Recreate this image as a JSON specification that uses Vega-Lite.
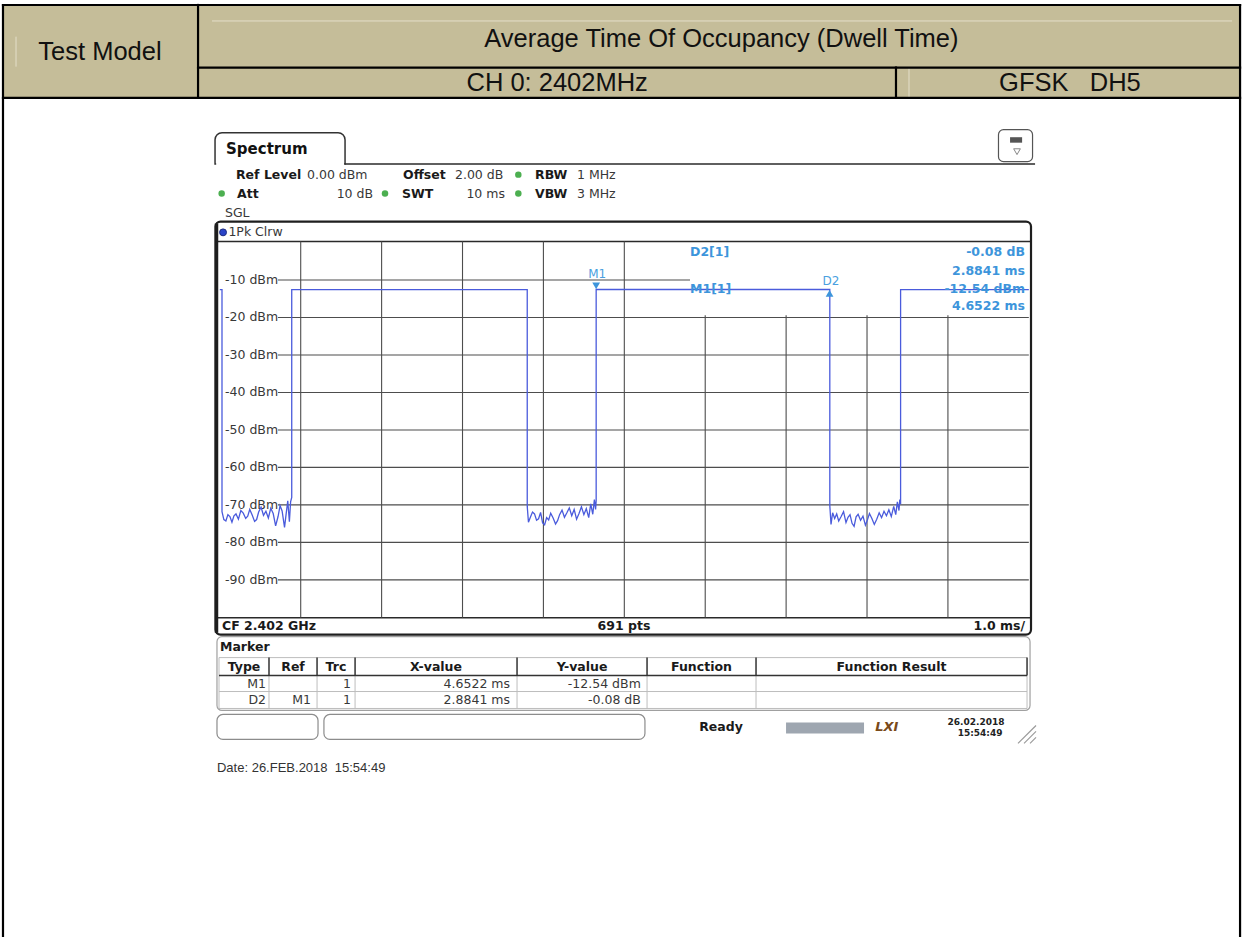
{
  "$schema": "https://vega.github.io/schema/vega-lite/v6.json",
  "width": 1242,
  "height": 938,
  "autosize": {"type": "fit", "contains": "padding"},
  "padding": 0,
  "background": "white",
  "config": {"view": {"stroke": null}},
  "datasets": {
    "rects": [
      {"g": "hdrFill", "t": -2.680, "t2": 12.611, "v": 63.35, "v2": 38.59},
      {"g": "tab", "t": -0.059, "t2": 1.548, "v": 29.28, "v2": 20.95},
      {"g": "icon", "t": 9.625, "t2": 10.046, "v": 30.08, "v2": 21.56},
      {"g": "iconBar", "t": 9.768, "t2": 9.917, "v": 28.08, "v2": 26.62},
      {"g": "plotBox", "t": -0.053, "t2": 10.027, "v": 5.59, "v2": -104.60},
      {"g": "mBox", "t": -0.035, "t2": 10.015, "v": -105.14, "v2": -124.83},
      {"g": "sBox", "t": -0.035, "t2": 1.214, "v": -125.90, "v2": -132.56},
      {"g": "sBox", "t": 1.287, "t2": 5.255, "v": -125.90, "v2": -132.56},
      {"g": "prog", "t": 6.999, "t2": 7.963, "v": -128.03, "v2": -130.96}
    ],
    "rules": [
      {"g": "faint", "t": -0.096, "t2": 12.512, "v": 59.09, "v2": 59.09},
      {"g": "faint", "t": -2.519, "t2": -2.519, "v": 54.9, "v2": 46.9},
      {"g": "faint", "t": 8.519, "t2": 8.519, "v": 46.5, "v2": 38.8},
      {"g": "frame", "t": -2.680, "t2": 12.611, "v": 63.35, "v2": 63.35},
      {"g": "frame", "t": -2.680, "t2": -2.680, "v": 63.35, "v2": -184.99},
      {"g": "frame", "t": 12.611, "t2": 12.611, "v": 63.35, "v2": -184.99},
      {"g": "frame", "t": -2.680, "t2": 12.611, "v": 38.59, "v2": 38.59},
      {"g": "frame", "t": -0.269, "t2": -0.269, "v": 63.35, "v2": 38.59},
      {"g": "frame", "t": -0.269, "t2": 12.611, "v": 46.66, "v2": 46.66},
      {"g": "frame", "t": 8.358, "t2": 8.358, "v": 46.66, "v2": 38.59},
      {"g": "tabCover", "t": -0.045, "t2": 1.535, "v": 20.95, "v2": 20.95},
      {"g": "inst", "t": 1.548, "t2": 10.077, "v": 20.95, "v2": 20.95},
      {"g": "inst", "t": -0.053, "t2": 10.027, "v": 0.27, "v2": 0.27},
      {"g": "inst", "t": -0.053, "t2": 10.027, "v": -100.08, "v2": -100.08},
      {"g": "thick", "t": -0.041, "t2": -0.041, "v": 5.06, "v2": -104.07},
      {"g": "grid", "t": 1, "t2": 1, "v": 0.27, "v2": -100},
      {"g": "grid", "t": 2, "t2": 2, "v": 0.27, "v2": -100},
      {"g": "grid", "t": 3, "t2": 3, "v": 0.27, "v2": -100},
      {"g": "grid", "t": 4, "t2": 4, "v": 0.27, "v2": -100},
      {"g": "grid", "t": 5, "t2": 5, "v": 0.27, "v2": -100},
      {"g": "grid", "t": 6, "t2": 6, "v": -19.43, "v2": -100},
      {"g": "grid", "t": 7, "t2": 7, "v": -19.43, "v2": -100},
      {"g": "grid", "t": 8, "t2": 8, "v": -19.43, "v2": -100},
      {"g": "grid", "t": 9, "t2": 9, "v": -19.43, "v2": -100},
      {"g": "grid", "t": 0.719, "t2": 5.812, "v": -10, "v2": -10},
      {"g": "grid", "t": 0.719, "t2": 10, "v": -20, "v2": -20},
      {"g": "grid", "t": 0.719, "t2": 10, "v": -30, "v2": -30},
      {"g": "grid", "t": 0.719, "t2": 10, "v": -40, "v2": -40},
      {"g": "grid", "t": 0.719, "t2": 10, "v": -50, "v2": -50},
      {"g": "grid", "t": 0.719, "t2": 10, "v": -60, "v2": -60},
      {"g": "grid", "t": 0.719, "t2": 10, "v": -70, "v2": -70},
      {"g": "grid", "t": 0.719, "t2": 10, "v": -80, "v2": -80},
      {"g": "grid", "t": 0.719, "t2": 10, "v": -90, "v2": -90},
      {"g": "tDark", "t": -0.010, "t2": 9.978, "v": -115.52, "v2": -115.52},
      {"g": "tDark", "t": 0.608, "t2": 0.608, "v": -110.73, "v2": -115.52},
      {"g": "tDark", "t": 1.202, "t2": 1.202, "v": -110.73, "v2": -115.52},
      {"g": "tDark", "t": 1.672, "t2": 1.672, "v": -110.73, "v2": -115.52},
      {"g": "tDark", "t": 3.674, "t2": 3.674, "v": -110.73, "v2": -115.52},
      {"g": "tDark", "t": 5.281, "t2": 5.281, "v": -110.73, "v2": -115.52},
      {"g": "tDark", "t": 6.628, "t2": 6.628, "v": -110.73, "v2": -115.52},
      {"g": "tDark", "t": 9.978, "t2": 9.978, "v": -110.73, "v2": -115.52},
      {"g": "tLight", "t": -0.010, "t2": 9.978, "v": -110.73, "v2": -110.73},
      {"g": "tLight", "t": -0.010, "t2": 9.978, "v": -119.78, "v2": -119.78},
      {"g": "tLight", "t": -0.010, "t2": 9.978, "v": -124.30, "v2": -124.30},
      {"g": "tLight", "t": -0.010, "t2": -0.010, "v": -110.73, "v2": -124.30},
      {"g": "tLight", "t": 0.608, "t2": 0.608, "v": -115.52, "v2": -124.30},
      {"g": "tLight", "t": 1.202, "t2": 1.202, "v": -115.52, "v2": -124.30},
      {"g": "tLight", "t": 1.672, "t2": 1.672, "v": -115.52, "v2": -124.30},
      {"g": "tLight", "t": 3.674, "t2": 3.674, "v": -115.52, "v2": -124.30},
      {"g": "tLight", "t": 5.281, "t2": 5.281, "v": -115.52, "v2": -124.30},
      {"g": "tLight", "t": 6.628, "t2": 6.628, "v": -115.52, "v2": -124.30},
      {"g": "tLight", "t": 9.978, "t2": 9.978, "v": -115.52, "v2": -124.30},
      {"g": "hatch", "t": 9.866, "t2": 10.089, "v": -133.62, "v2": -128.83},
      {"g": "hatch", "t": 9.941, "t2": 10.089, "v": -133.62, "v2": -130.42},
      {"g": "hatch", "t": 10.015, "t2": 10.089, "v": -133.62, "v2": -132.02}
    ],
    "dots": [
      {"g": "green", "t": 3.690, "v": 18.10},
      {"g": "green", "t": 0.023, "v": 13.04},
      {"g": "green", "t": 2.042, "v": 13.04},
      {"g": "green", "t": 3.690, "v": 13.04},
      {"g": "blue", "t": 0.040, "v": 2.70},
      {"g": "triDown", "t": 4.652, "v": -11.58},
      {"g": "triUp", "t": 7.537, "v": -13.57},
      {"g": "iconTri", "t": 9.854, "v": 24.22}
    ],
    "annot": [
      {"g": "hdr", "t": -1.481, "v": 50.84, "s": "Test Model"},
      {"g": "hdr", "t": 6.20, "v": 54.30, "s": "Average Time Of Occupancy (Dwell Time)"},
      {"g": "hdr", "t": 4.17, "v": 42.66, "s": "CH 0: 2402MHz"},
      {"g": "hdr", "t": 10.508, "v": 42.66, "s": "GFSK\u00a0\u00a0\u00a0DH5"},
      {"g": "spec", "t": 0.077, "v": 25.02, "s": "Spectrum"},
      {"g": "bL", "t": 0.200, "v": 18.10, "s": "Ref Level"},
      {"g": "bL", "t": 2.265, "v": 18.10, "s": "Offset"},
      {"g": "bL", "t": 3.896, "v": 18.10, "s": "RBW"},
      {"g": "bL", "t": 0.213, "v": 13.04, "s": "Att"},
      {"g": "bL", "t": 2.252, "v": 13.04, "s": "SWT"},
      {"g": "bL", "t": 3.896, "v": 13.04, "s": "VBW"},
      {"g": "bL", "t": 0.027, "v": -102.21, "s": "CF 2.402 GHz"},
      {"g": "bL", "t": 0.002, "v": -107.80, "s": "Marker"},
      {"g": "bC", "t": 4.996, "v": -102.21, "s": "691 pts"},
      {"g": "bC", "t": 0.299, "v": -113.12, "s": "Type"},
      {"g": "bC", "t": 0.905, "v": -113.12, "s": "Ref"},
      {"g": "bC", "t": 1.436, "v": -113.12, "s": "Trc"},
      {"g": "bC", "t": 2.672, "v": -113.12, "s": "X-value"},
      {"g": "bC", "t": 4.478, "v": -113.12, "s": "Y-value"},
      {"g": "bC", "t": 5.954, "v": -113.12, "s": "Function"},
      {"g": "bC", "t": 8.303, "v": -113.12, "s": "Function Result"},
      {"g": "bC", "t": 6.195, "v": -129.36, "s": "Ready"},
      {"g": "bR", "t": 9.953, "v": -102.21, "s": "1.0 ms/"},
      {"g": "nL", "t": 1.078, "v": 18.10, "s": "0.00 dBm"},
      {"g": "nL", "t": 2.907, "v": 18.10, "s": "2.00 dB"},
      {"g": "nL", "t": 4.415, "v": 18.10, "s": "1 MHz"},
      {"g": "nL", "t": 4.415, "v": 13.04, "s": "3 MHz"},
      {"g": "nL", "t": 0.064, "v": 7.91, "s": "SGL"},
      {"g": "nL", "t": 0.106, "v": 2.85, "s": "1Pk Clrw"},
      {"g": "nL", "t": 0.064, "v": -10, "s": "-10 dBm"},
      {"g": "nL", "t": 0.064, "v": -20, "s": "-20 dBm"},
      {"g": "nL", "t": 0.064, "v": -30, "s": "-30 dBm"},
      {"g": "nL", "t": 0.064, "v": -40, "s": "-40 dBm"},
      {"g": "nL", "t": 0.064, "v": -50, "s": "-50 dBm"},
      {"g": "nL", "t": 0.064, "v": -60, "s": "-60 dBm"},
      {"g": "nL", "t": 0.064, "v": -70, "s": "-70 dBm"},
      {"g": "nL", "t": 0.064, "v": -80, "s": "-80 dBm"},
      {"g": "nL", "t": 0.064, "v": -90, "s": "-90 dBm"},
      {"g": "nR", "t": 1.894, "v": 13.04, "s": "10 dB"},
      {"g": "nR", "t": 3.525, "v": 13.04, "s": "10 ms"},
      {"g": "nR", "t": 0.571, "v": -117.65, "s": "M1"},
      {"g": "nR", "t": 1.622, "v": -117.65, "s": "1"},
      {"g": "nR", "t": 3.587, "v": -117.65, "s": "4.6522 ms"},
      {"g": "nR", "t": 5.204, "v": -117.65, "s": "-12.54 dBm"},
      {"g": "nR", "t": 0.571, "v": -122.04, "s": "D2"},
      {"g": "nR", "t": 1.127, "v": -122.04, "s": "M1"},
      {"g": "nR", "t": 1.622, "v": -122.04, "s": "1"},
      {"g": "nR", "t": 3.587, "v": -122.04, "s": "2.8841 ms"},
      {"g": "nR", "t": 5.204, "v": -122.04, "s": "-0.08 dB"},
      {"g": "mL", "t": 5.812, "v": -2.66, "s": "D2[1]"},
      {"g": "mL", "t": 5.812, "v": -12.51, "s": "M1[1]"},
      {"g": "mR", "t": 9.953, "v": -2.66, "s": "-0.08 dB"},
      {"g": "mR", "t": 9.953, "v": -7.64, "s": "2.8841 ms"},
      {"g": "mR", "t": 9.953, "v": -12.51, "s": "-12.54 dBm"},
      {"g": "mR", "t": 9.953, "v": -16.95, "s": "4.6522 ms"},
      {"g": "mC", "t": 4.665, "v": -8.52, "s": "M1"},
      {"g": "mC", "t": 7.553, "v": -10.30, "s": "D2"},
      {"g": "sm", "t": 9.347, "v": -128.03, "s": "26.02.2018"},
      {"g": "sm", "t": 9.397, "v": -130.96, "s": "15:54:49"},
      {"g": "lxi", "t": 8.245, "v": -129.36, "s": "LXI"},
      {"g": "date", "t": -0.035, "v": -140.27, "s": "Date: 26.FEB.2018\u00a0\u00a015:54:49"}
    ],
    "trace": [
      {"t": 0, "v": -12.6}, {"t": 0.027, "v": -12.6}, {"t": 0.027, "v": -71.8},
      {"t": 0.050, "v": -73.9}, {"t": 0.075, "v": -74.3}, {"t": 0.100, "v": -72.6},
      {"t": 0.125, "v": -73.1}, {"t": 0.150, "v": -74.6}, {"t": 0.175, "v": -72.9},
      {"t": 0.200, "v": -72.4}, {"t": 0.230, "v": -73.8}, {"t": 0.260, "v": -71.5},
      {"t": 0.290, "v": -72.2}, {"t": 0.320, "v": -73.6}, {"t": 0.345, "v": -73.0},
      {"t": 0.370, "v": -71.2}, {"t": 0.400, "v": -72.7}, {"t": 0.430, "v": -74.4},
      {"t": 0.455, "v": -73.9}, {"t": 0.480, "v": -71.9}, {"t": 0.510, "v": -70.6},
      {"t": 0.540, "v": -72.8}, {"t": 0.570, "v": -71.7}, {"t": 0.600, "v": -73.5},
      {"t": 0.630, "v": -70.9}, {"t": 0.660, "v": -72.3}, {"t": 0.690, "v": -75.6},
      {"t": 0.720, "v": -73.1}, {"t": 0.745, "v": -70.2}, {"t": 0.770, "v": -71.6},
      {"t": 0.800, "v": -76.0}, {"t": 0.820, "v": -72.4}, {"t": 0.840, "v": -68.9},
      {"t": 0.860, "v": -74.5}, {"t": 0.875, "v": -69.2}, {"t": 0.889, "v": -68.0},
      {"t": 0.889, "v": -12.6},
      {"t": 3.800, "v": -12.6}, {"t": 3.800, "v": -70.4},
      {"t": 3.815, "v": -74.6}, {"t": 3.840, "v": -73.2}, {"t": 3.865, "v": -71.9},
      {"t": 3.890, "v": -72.4}, {"t": 3.915, "v": -74.1}, {"t": 3.940, "v": -73.7},
      {"t": 3.965, "v": -72.0}, {"t": 3.990, "v": -74.8}, {"t": 4.015, "v": -75.3},
      {"t": 4.040, "v": -73.4}, {"t": 4.065, "v": -74.0}, {"t": 4.090, "v": -72.2},
      {"t": 4.120, "v": -73.5}, {"t": 4.150, "v": -75.1}, {"t": 4.175, "v": -74.2},
      {"t": 4.200, "v": -72.6}, {"t": 4.230, "v": -71.4}, {"t": 4.260, "v": -73.3},
      {"t": 4.290, "v": -72.1}, {"t": 4.320, "v": -70.8}, {"t": 4.350, "v": -72.9},
      {"t": 4.380, "v": -71.2}, {"t": 4.410, "v": -73.8}, {"t": 4.440, "v": -72.3},
      {"t": 4.470, "v": -70.5}, {"t": 4.500, "v": -72.6}, {"t": 4.530, "v": -71.0},
      {"t": 4.560, "v": -73.4}, {"t": 4.585, "v": -69.7}, {"t": 4.610, "v": -72.5},
      {"t": 4.630, "v": -68.6}, {"t": 4.645, "v": -71.2}, {"t": 4.652, "v": -68.9},
      {"t": 4.652, "v": -12.54}, {"t": 7.540, "v": -12.54}, {"t": 7.540, "v": -70.2},
      {"t": 7.555, "v": -75.2}, {"t": 7.575, "v": -72.1}, {"t": 7.600, "v": -73.6},
      {"t": 7.625, "v": -72.4}, {"t": 7.650, "v": -74.3}, {"t": 7.680, "v": -73.1},
      {"t": 7.710, "v": -71.8}, {"t": 7.740, "v": -74.7}, {"t": 7.765, "v": -73.3},
      {"t": 7.790, "v": -72.6}, {"t": 7.815, "v": -74.9}, {"t": 7.840, "v": -75.7},
      {"t": 7.865, "v": -73.2}, {"t": 7.890, "v": -72.5}, {"t": 7.920, "v": -74.1},
      {"t": 7.950, "v": -73.0}, {"t": 7.980, "v": -75.4}, {"t": 8.005, "v": -74.0},
      {"t": 8.030, "v": -72.3}, {"t": 8.060, "v": -73.6}, {"t": 8.090, "v": -75.2},
      {"t": 8.120, "v": -73.8}, {"t": 8.150, "v": -72.1}, {"t": 8.180, "v": -73.4},
      {"t": 8.210, "v": -71.7}, {"t": 8.240, "v": -72.9}, {"t": 8.270, "v": -71.3},
      {"t": 8.300, "v": -73.1}, {"t": 8.330, "v": -70.4}, {"t": 8.355, "v": -72.6},
      {"t": 8.375, "v": -69.2}, {"t": 8.395, "v": -71.5}, {"t": 8.405, "v": -68.6},
      {"t": 8.415, "v": -69.8}, {"t": 8.415, "v": -12.56},
      {"t": 10.0, "v": -12.56}
    ]
  },
  "encoding": {
    "x": {"field": "t", "type": "quantitative", "scale": {"domain": [-2.717, 12.635], "nice": false, "zero": false}, "axis": null},
    "y": {"field": "v", "type": "quantitative", "scale": {"domain": [-184.99, 64.68], "nice": false, "zero": false}, "axis": null}
  },
  "layer": [
    {"data": {"name": "rects"}, "transform": [{"filter": "datum.g == 'hdrFill'"}], "mark": {"type": "rect", "fill": "#c5bd99"}, "encoding": {"x2": {"field": "t2"}, "y2": {"field": "v2"}}},
    {"data": {"name": "rules"}, "transform": [{"filter": "datum.g == 'faint'"}], "mark": {"type": "rule", "color": "#e4dfca", "strokeWidth": 1}, "encoding": {"x2": {"field": "t2"}, "y2": {"field": "v2"}}},
    {"data": {"name": "rules"}, "transform": [{"filter": "datum.g == 'frame'"}], "mark": {"type": "rule", "color": "#000000", "strokeWidth": 2.2, "strokeCap": "square"}, "encoding": {"x2": {"field": "t2"}, "y2": {"field": "v2"}}},
    {"data": {"name": "annot"}, "transform": [{"filter": "datum.g == 'hdr'"}], "mark": {"type": "text", "font": "Liberation Sans", "fontSize": 25.5, "color": "#111111", "align": "center", "baseline": "middle"}, "encoding": {"text": {"field": "s"}}},
    {"data": {"name": "rects"}, "transform": [{"filter": "datum.g == 'tab'"}], "mark": {"type": "rect", "fill": "#ffffff", "stroke": "#333333", "strokeWidth": 1.5, "cornerRadiusTopLeft": 7, "cornerRadiusTopRight": 7}, "encoding": {"x2": {"field": "t2"}, "y2": {"field": "v2"}}},
    {"data": {"name": "rules"}, "transform": [{"filter": "datum.g == 'tabCover'"}], "mark": {"type": "rule", "color": "#ffffff", "strokeWidth": 3}, "encoding": {"x2": {"field": "t2"}, "y2": {"field": "v2"}}},
    {"data": {"name": "rules"}, "transform": [{"filter": "datum.g == 'inst'"}], "mark": {"type": "rule", "color": "#2a2a2a", "strokeWidth": 1.5}, "encoding": {"x2": {"field": "t2"}, "y2": {"field": "v2"}}},
    {"data": {"name": "rects"}, "transform": [{"filter": "datum.g == 'icon'"}], "mark": {"type": "rect", "fill": "#ffffff", "stroke": "#555555", "strokeWidth": 1.2, "cornerRadius": 5}, "encoding": {"x2": {"field": "t2"}, "y2": {"field": "v2"}}},
    {"data": {"name": "rects"}, "transform": [{"filter": "datum.g == 'iconBar'"}], "mark": {"type": "rect", "fill": "#555555"}, "encoding": {"x2": {"field": "t2"}, "y2": {"field": "v2"}}},
    {"data": {"name": "dots"}, "transform": [{"filter": "datum.g == 'iconTri'"}], "mark": {"type": "point", "shape": "triangle-down", "filled": false, "color": "#555555", "size": 45, "strokeWidth": 1}},
    {"data": {"name": "rects"}, "transform": [{"filter": "datum.g == 'plotBox'"}], "mark": {"type": "rect", "fillOpacity": 0, "stroke": "#1e1e1e", "strokeWidth": 2.2, "cornerRadius": 5}, "encoding": {"x2": {"field": "t2"}, "y2": {"field": "v2"}}},
    {"data": {"name": "rules"}, "transform": [{"filter": "datum.g == 'thick'"}], "mark": {"type": "rule", "color": "#1e1e1e", "strokeWidth": 3.5}, "encoding": {"x2": {"field": "t2"}, "y2": {"field": "v2"}}},
    {"data": {"name": "rules"}, "transform": [{"filter": "datum.g == 'grid'"}], "mark": {"type": "rule", "color": "#4d4d4d", "strokeWidth": 1.1}, "encoding": {"x2": {"field": "t2"}, "y2": {"field": "v2"}}},
    {"data": {"name": "annot"}, "transform": [{"filter": "datum.g == 'spec'"}], "mark": {"type": "text", "font": "DejaVu Sans", "fontWeight": "bold", "fontSize": 15, "color": "#111111", "align": "left", "baseline": "middle"}, "encoding": {"text": {"field": "s"}}},
    {"data": {"name": "annot"}, "transform": [{"filter": "datum.g == 'bL'"}], "mark": {"type": "text", "font": "DejaVu Sans", "fontWeight": "bold", "fontSize": 12.5, "color": "#1a1a1a", "align": "left", "baseline": "middle"}, "encoding": {"text": {"field": "s"}}},
    {"data": {"name": "annot"}, "transform": [{"filter": "datum.g == 'bC'"}], "mark": {"type": "text", "font": "DejaVu Sans", "fontWeight": "bold", "fontSize": 12.5, "color": "#1a1a1a", "align": "center", "baseline": "middle"}, "encoding": {"text": {"field": "s"}}},
    {"data": {"name": "annot"}, "transform": [{"filter": "datum.g == 'bR'"}], "mark": {"type": "text", "font": "DejaVu Sans", "fontWeight": "bold", "fontSize": 12.5, "color": "#1a1a1a", "align": "right", "baseline": "middle"}, "encoding": {"text": {"field": "s"}}},
    {"data": {"name": "annot"}, "transform": [{"filter": "datum.g == 'nL'"}], "mark": {"type": "text", "font": "DejaVu Sans", "fontSize": 12.5, "color": "#383838", "align": "left", "baseline": "middle"}, "encoding": {"text": {"field": "s"}}},
    {"data": {"name": "annot"}, "transform": [{"filter": "datum.g == 'nR'"}], "mark": {"type": "text", "font": "DejaVu Sans", "fontSize": 12.5, "color": "#383838", "align": "right", "baseline": "middle"}, "encoding": {"text": {"field": "s"}}},
    {"data": {"name": "dots"}, "transform": [{"filter": "datum.g == 'green'"}], "mark": {"type": "point", "shape": "circle", "filled": true, "color": "#4caf50", "size": 42, "opacity": 1}},
    {"data": {"name": "dots"}, "transform": [{"filter": "datum.g == 'blue'"}], "mark": {"type": "point", "shape": "circle", "filled": true, "color": "#2a44c8", "size": 48, "opacity": 1, "stroke": "#1a2a80", "strokeWidth": 1}},
    {"data": {"name": "trace"}, "mark": {"type": "line", "color": "#4a5bdc", "strokeWidth": 1.3}, "encoding": {"order": {"value": null}}},
    {"data": {"name": "dots"}, "transform": [{"filter": "datum.g == 'triDown'"}], "mark": {"type": "point", "shape": "triangle-down", "filled": true, "color": "#3d95db", "size": 60, "opacity": 1}},
    {"data": {"name": "dots"}, "transform": [{"filter": "datum.g == 'triUp'"}], "mark": {"type": "point", "shape": "triangle-up", "filled": true, "color": "#3d95db", "size": 60, "opacity": 1}},
    {"data": {"name": "annot"}, "transform": [{"filter": "datum.g == 'mL'"}], "mark": {"type": "text", "font": "DejaVu Sans", "fontWeight": "bold", "fontSize": 12.5, "color": "#3d95db", "align": "left", "baseline": "middle"}, "encoding": {"text": {"field": "s"}}},
    {"data": {"name": "annot"}, "transform": [{"filter": "datum.g == 'mR'"}], "mark": {"type": "text", "font": "DejaVu Sans", "fontWeight": "bold", "fontSize": 12.5, "color": "#3d95db", "align": "right", "baseline": "middle"}, "encoding": {"text": {"field": "s"}}},
    {"data": {"name": "annot"}, "transform": [{"filter": "datum.g == 'mC'"}], "mark": {"type": "text", "font": "DejaVu Sans", "fontSize": 12, "color": "#4a9fe0", "align": "center", "baseline": "middle"}, "encoding": {"text": {"field": "s"}}},
    {"data": {"name": "rects"}, "transform": [{"filter": "datum.g == 'mBox'"}], "mark": {"type": "rect", "fillOpacity": 0, "stroke": "#a0a0a0", "strokeWidth": 1.2, "cornerRadius": 5}, "encoding": {"x2": {"field": "t2"}, "y2": {"field": "v2"}}},
    {"data": {"name": "rules"}, "transform": [{"filter": "datum.g == 'tLight'"}], "mark": {"type": "rule", "color": "#bdbdbd", "strokeWidth": 1}, "encoding": {"x2": {"field": "t2"}, "y2": {"field": "v2"}}},
    {"data": {"name": "rules"}, "transform": [{"filter": "datum.g == 'tDark'"}], "mark": {"type": "rule", "color": "#333333", "strokeWidth": 1.5}, "encoding": {"x2": {"field": "t2"}, "y2": {"field": "v2"}}},
    {"data": {"name": "rects"}, "transform": [{"filter": "datum.g == 'sBox'"}], "mark": {"type": "rect", "fillOpacity": 0, "stroke": "#8c8c8c", "strokeWidth": 1.2, "cornerRadius": 6}, "encoding": {"x2": {"field": "t2"}, "y2": {"field": "v2"}}},
    {"data": {"name": "rects"}, "transform": [{"filter": "datum.g == 'prog'"}], "mark": {"type": "rect", "fill": "#9ea6b0"}, "encoding": {"x2": {"field": "t2"}, "y2": {"field": "v2"}}},
    {"data": {"name": "rules"}, "transform": [{"filter": "datum.g == 'hatch'"}], "mark": {"type": "rule", "color": "#9a9a9a", "strokeWidth": 1.2}, "encoding": {"x2": {"field": "t2"}, "y2": {"field": "v2"}}},
    {"data": {"name": "annot"}, "transform": [{"filter": "datum.g == 'sm'"}], "mark": {"type": "text", "font": "DejaVu Sans", "fontWeight": "bold", "fontSize": 9, "color": "#222222", "align": "center", "baseline": "middle"}, "encoding": {"text": {"field": "s"}}},
    {"data": {"name": "annot"}, "transform": [{"filter": "datum.g == 'lxi'"}], "mark": {"type": "text", "font": "DejaVu Sans", "fontWeight": "bold", "fontStyle": "italic", "fontSize": 13, "color": "#7a4a1a", "align": "center", "baseline": "middle"}, "encoding": {"text": {"field": "s"}}},
    {"data": {"name": "annot"}, "transform": [{"filter": "datum.g == 'date'"}], "mark": {"type": "text", "font": "Liberation Sans", "fontSize": 13, "color": "#333333", "align": "left", "baseline": "middle"}, "encoding": {"text": {"field": "s"}}}
  ]
}
